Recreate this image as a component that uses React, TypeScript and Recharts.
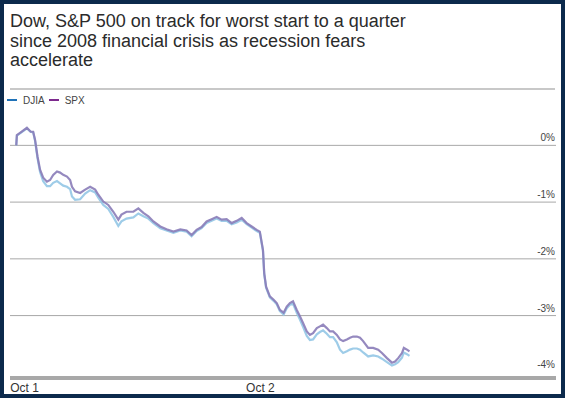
import React from "react";
import { LineChart, Line, XAxis, YAxis, ReferenceLine } from "recharts";

const titleLines = [
  "Dow, S&P 500 on track for worst start to a quarter",
  "since 2008 financial crisis as recession fears",
  "accelerate",
];

const seriesNames = ["DJIA", "SPX"];
const legendColors = ["#1f72b8", "#7d2a8e"];
const lineColors = ["#93c6e6", "#8a7cb8"];

// minutes since the Oct 1 open (Oct 2 open = 390)
const times = [
  0, 1, 6, 17, 23, 27, 30, 34, 38, 43, 49, 54, 59, 65, 70, 75, 81, 86, 89, 94,
  102, 110, 118, 126, 131, 139, 147, 155, 163, 168, 176, 187, 195, 203, 211, 219,
  230, 240, 251, 262, 272, 280, 288, 296, 304, 312, 320, 328, 336, 344, 352, 360,
  368, 376, 384, 389, 394, 396, 399, 405, 411, 416, 421, 427, 432, 437, 442, 448,
  453, 458, 464, 469, 474, 480, 485, 490, 496, 501, 506, 512, 517, 522, 528, 533,
  538, 544, 549, 554, 562, 570, 578, 584, 592, 600, 605, 610, 616, 619, 624, 628,
];

const spx = [
  0.0, 0.18, 0.22, 0.31, 0.24, 0.24, 0.1, -0.2, -0.43, -0.57, -0.64, -0.61, -0.52,
  -0.46, -0.48, -0.52, -0.55, -0.61, -0.73, -0.81, -0.84, -0.78, -0.73, -0.78,
  -0.87, -0.99, -1.05, -1.17, -1.31, -1.22, -1.17, -1.17, -1.11, -1.19, -1.25,
  -1.34, -1.43, -1.48, -1.52, -1.48, -1.5, -1.58, -1.49, -1.44, -1.34, -1.3,
  -1.26, -1.31, -1.3, -1.37, -1.33, -1.28, -1.37, -1.43, -1.49, -1.52, -1.84,
  -2.25, -2.49, -2.66, -2.72, -2.78, -2.9, -2.95, -2.84, -2.78, -2.75, -2.9,
  -3.01, -3.13, -3.28, -3.34, -3.31, -3.22, -3.19, -3.16, -3.22, -3.28, -3.28,
  -3.34, -3.42, -3.45, -3.42, -3.39, -3.37, -3.37, -3.39, -3.45, -3.57, -3.57,
  -3.6, -3.66, -3.75, -3.83, -3.81, -3.75, -3.66, -3.57, -3.6, -3.63,
];

const djia = [
  0.0, 0.17, 0.21, 0.3, 0.24, 0.23, 0.08, -0.23, -0.47, -0.63, -0.72, -0.72,
  -0.66, -0.63, -0.67, -0.71, -0.73, -0.77, -0.9, -0.96, -0.95, -0.85, -0.79,
  -0.83, -0.92, -1.05, -1.12, -1.26, -1.42, -1.34, -1.29, -1.27, -1.2, -1.25,
  -1.29, -1.37, -1.46, -1.5, -1.54, -1.5, -1.52, -1.6, -1.51, -1.46, -1.37,
  -1.33, -1.29, -1.33, -1.33, -1.39, -1.36, -1.31, -1.39, -1.45, -1.51, -1.54,
  -1.86, -2.27, -2.51, -2.68, -2.74, -2.8, -2.92, -2.98, -2.87, -2.81, -2.79,
  -2.95, -3.07, -3.2, -3.36, -3.43, -3.42, -3.33, -3.29, -3.26, -3.32, -3.38,
  -3.38, -3.47, -3.6, -3.66, -3.63, -3.6, -3.58, -3.58, -3.6, -3.65, -3.72,
  -3.7, -3.72, -3.76, -3.82, -3.88, -3.86, -3.82, -3.74, -3.65, -3.68, -3.71,
];

const xTickValues = [0, 390];
const xTickLabels = ["Oct 1", "Oct 2"];
const yTickValues = [0, -1, -2, -3, -4];
const gridValues = [0, -1, -2, -3];

const data = times.map((t, i) => ({ t, DJIA: djia[i], SPX: spx[i] }));

const FONT = '"Liberation Sans", Arial, Helvetica, sans-serif';

const XTick = (props: any) => {
  const { x, y, index } = props;
  return (
    <text
      x={x}
      y={y}
      dx={index === 0 ? -6 : 0}
      dy={14}
      textAnchor={index === 0 ? "start" : "middle"}
      fontFamily={FONT}
      fontSize={12}
      fill="#333"
    >
      {xTickLabels[index]}
    </text>
  );
};

const YTick = (props: any) => {
  const { x, y, payload } = props;
  return (
    <text
      x={x}
      y={y}
      dx={-1}
      dy={-4}
      textAnchor="end"
      fontFamily={FONT}
      fontSize={10}
      fill="#444"
    >
      {`${payload.value}%`}
    </text>
  );
};

export default function App() {
  return (
    <div
      style={{
        position: "absolute",
        left: 0,
        top: 0,
        width: 565,
        height: 398,
        background: "#0c2a4c",
        fontFamily: FONT,
      }}
    >
      <div
        style={{
          position: "absolute",
          left: 4,
          top: 4,
          width: 557,
          height: 390,
          background: "#ffffff",
        }}
      />
      <div
        style={{
          position: "absolute",
          left: 10,
          top: 12,
          fontSize: 18,
          lineHeight: "19.5px",
          color: "#2b2b2b",
          whiteSpace: "nowrap",
        }}
      >
        {titleLines.map((l, i) => (
          <div key={i}>{l}</div>
        ))}
      </div>
      <div
        style={{
          position: "absolute",
          left: 10,
          top: 88,
          width: 545,
          height: 2,
          background: "#c8c8c8",
        }}
      />
      <div
        style={{
          position: "absolute",
          left: 7,
          top: 94,
          height: 12,
          display: "flex",
          alignItems: "center",
          fontSize: 10,
          color: "#444",
        }}
      >
        {seriesNames.map((n, i) => (
          <React.Fragment key={n}>
            <span
              style={{
                display: "inline-block",
                width: 10,
                height: 1.5,
                background: legendColors[i],
                marginRight: 6,
                marginLeft: i === 0 ? 0 : 4,
              }}
            />
            <span>{n}</span>
          </React.Fragment>
        ))}
      </div>
      <div style={{ position: "absolute", left: 0, top: 0 }}>
        <LineChart
          width={565}
          height={398}
          data={data}
          margin={{ top: 117, right: 9, bottom: 0, left: 10 }}
        >
          <XAxis
            dataKey="t"
            type="number"
            domain={[-10, 862]}
            ticks={xTickValues}
            tick={<XTick />}
            tickLine={false}
            tickSize={0}
            tickMargin={0}
            height={20}
            axisLine={{ stroke: "#a8a8a8", strokeWidth: 4 }}
            interval={0}
          />
          <YAxis
            orientation="right"
            mirror
            type="number"
            domain={[-4.1, 0.5]}
            ticks={yTickValues}
            tick={<YTick />}
            tickLine={false}
            axisLine={false}
            tickSize={0}
            tickMargin={0}
            interval={0}
            allowDataOverflow
          />
          {gridValues.map((v) => (
            <ReferenceLine key={v} y={v} stroke="#a8a8a8" strokeWidth={1} />
          ))}
          <Line
            type="linear"
            dataKey="DJIA"
            stroke={lineColors[0]}
            strokeWidth={2.2}
            strokeOpacity={0.9}
            dot={false}
            isAnimationActive={false}
          />
          <Line
            type="linear"
            dataKey="SPX"
            stroke={lineColors[1]}
            strokeWidth={2.2}
            strokeOpacity={0.9}
            dot={false}
            isAnimationActive={false}
          />
        </LineChart>
      </div>
    </div>
  );
}
